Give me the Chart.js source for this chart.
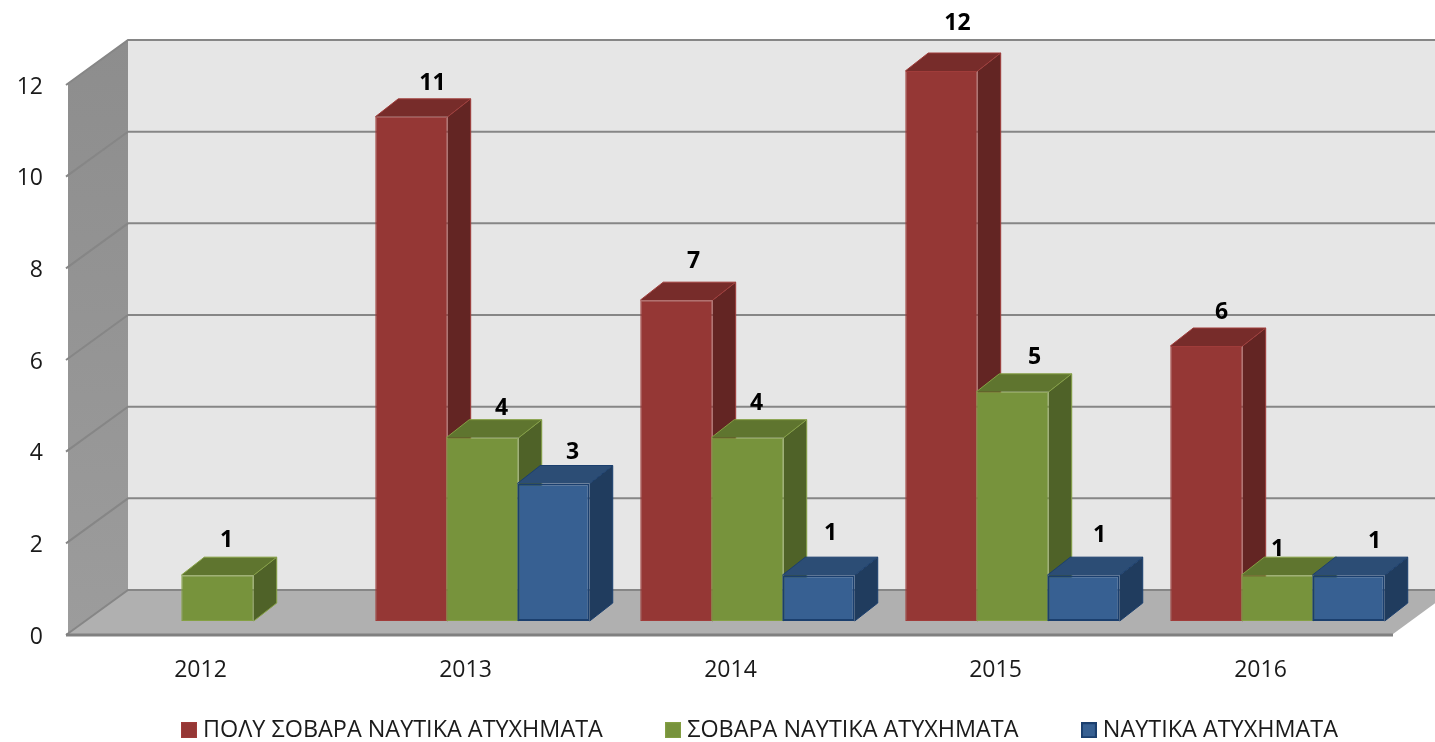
<!DOCTYPE html>
<html>
<head>
<meta charset="utf-8">
<style>html,body{margin:0;padding:0;background:#fff;overflow:hidden}canvas{display:block}</style>
<script src="https://cdn.jsdelivr.net/npm/chart.js@4/dist/chart.umd.js"></script>
</head>
<body>
<canvas id="c" width="1435" height="742"></canvas>
<script>
const categories = ['2012', '2013', '2014', '2015', '2016'];
const verySerious = [null, 11, 7, 12, 6];
const serious = [1, 4, 4, 5, 1];
const accidents = [null, 3, 1, 1, 1];
const seriesNames = ['ΠΟΛΥ ΣΟΒΑΡΑ ΝΑΥΤΙΚΑ ΑΤΥΧΗΜΑΤΑ', 'ΣΟΒΑΡΑ ΝΑΥΤΙΚΑ ΑΤΥΧΗΜΑΤΑ', 'ΝΑΥΤΙΚΑ ΑΤΥΧΗΜΑΤΑ'];

// styling of the 3D box
const WALL = {dx: 60, dy: 44};
const BAR_SHIFT = {x: 17, y: -13};
const DEPTH = {dx: 23, dy: -18};
const shades = [
  {front: '#953735', top: '#772c2a', side: '#632523', border: '#a03c3a', width: 1},
  {front: '#77933c', top: '#5f752f', side: '#4f6228', border: '#85a044', width: 1},
  {front: '#376092', top: '#2c4d75', side: '#203c5e', border: '#1b3f6e', width: 2}
];
const labelOffsets = [
  [null, [21, -35], [17, -40], [16, -49], [15, -35]],
  [[9, -36], [19, -31], [9, -36], [22, -36], [0, -27]],
  [null, [19, -33], [12, -43], [16, -41], [26, -35]]
];

function poly(ctx, pts, fill) {
  ctx.beginPath();
  pts.forEach((p, i) => i ? ctx.lineTo(p[0], p[1]) : ctx.moveTo(p[0], p[1]));
  ctx.closePath();
  ctx.fillStyle = fill;
  ctx.fill();
}

function legendSwatch(s) {
  const c = document.createElement('canvas');
  c.width = 16;
  c.height = 16;
  const x = c.getContext('2d');
  x.fillStyle = s.border;
  x.fillRect(0, 0, 16, 16);
  x.fillStyle = s.front;
  x.fillRect(s.width, s.width, 16 - 2 * s.width, 16 - 2 * s.width);
  return c;
}

const box3d = {
  id: 'box3d',
  beforeLayout(chart) {
    const lg = chart.legend;
    if (lg && !lg._wrapped) {
      const fit = lg.fit;
      lg.fit = function () { fit.call(this); this.height = 30; };
      lg._wrapped = true;
    }
  },
  afterLayout(chart) {
    const lg = chart.legend;
    const pad = lg.options.labels.padding;
    lg.left = 186.7 - pad;
    lg.right = 1435;
    lg.top = 718.5 - pad;
  },
  beforeDatasetsDraw(chart) {
    const {ctx, chartArea: {left, right, top, bottom}, scales: {y}} = chart;
    const {dx, dy} = WALL;
    ctx.save();
    poly(ctx, [[left + dx, top - dy], [right + dx, top - dy], [right + dx, bottom - dy], [left + dx, bottom - dy]], '#e6e6e6');
    const g = ctx.createLinearGradient(0, top - dy, 0, bottom);
    g.addColorStop(0, '#8d8d8d');
    g.addColorStop(1, '#9c9c9c');
    poly(ctx, [[left, top], [left + dx, top - dy], [left + dx, bottom - dy], [left, bottom]], g);
    poly(ctx, [[left, bottom], [left + dx, bottom - dy], [right + dx, bottom - dy], [right, bottom]], '#b0b0b0');
    ctx.strokeStyle = '#868686';
    ctx.lineWidth = 2;
    y.ticks.forEach(t => {
      const py = y.getPixelForValue(t.value);
      ctx.beginPath();
      ctx.moveTo(left - 2, py + 1);
      ctx.lineTo(left + dx, py - dy);
      ctx.lineTo(right + dx, py - dy);
      ctx.stroke();
    });
    ctx.strokeStyle = '#808080';
    ctx.lineWidth = 3;
    ctx.beginPath();
    ctx.moveTo(left - 2, bottom + 1);
    ctx.lineTo(right, bottom + 1);
    ctx.stroke();
    ctx.restore();
  },
  beforeDatasetDraw() { return false; },
  afterDatasetsDraw(chart) {
    const {ctx} = chart;
    ctx.save();
    ctx.translate(BAR_SHIFT.x, BAR_SHIFT.y);
    chart.data.datasets.forEach((ds, i) => {
      const s = shades[i];
      chart.getDatasetMeta(i).data.forEach((el, j) => {
        if (ds.data[j] == null) return;
        const l = el.x - el.width / 2, r = el.x + el.width / 2;
        const {dx, dy} = DEPTH;
        poly(ctx, [[r, el.y], [r + dx, el.y + dy], [r + dx, el.base + dy], [r, el.base]], s.side);
        poly(ctx, [[l, el.y], [l + dx, el.y + dy], [r + dx, el.y + dy], [r, el.y]], s.top);
        ctx.strokeStyle = s.border;
        ctx.lineWidth = 1;
        ctx.beginPath();
        ctx.moveTo(l, el.y);
        ctx.lineTo(l + dx, el.y + dy);
        ctx.lineTo(r + dx, el.y + dy);
        ctx.lineTo(r + dx, el.base + dy);
        ctx.lineTo(r, el.base);
        ctx.moveTo(r, el.y);
        ctx.lineTo(r + dx, el.y + dy);
        ctx.stroke();
        el.draw(ctx);
      });
    });
    ctx.restore();
    ctx.save();
    ctx.font = 'bold 23px "Open Sans"';
    ctx.fillStyle = '#000';
    ctx.textAlign = 'center';
    ctx.textBaseline = 'middle';
    chart.data.datasets.forEach((ds, i) => {
      chart.getDatasetMeta(i).data.forEach((el, j) => {
        if (ds.data[j] == null) return;
        const o = labelOffsets[i][j];
        ctx.fillText(String(ds.data[j]), el.x + BAR_SHIFT.x + o[0], el.y - 11.5 + o[1]);
      });
    });
    ctx.restore();
  }
};

const makeSet = (i, values) => ({
  label: seriesNames[i],
  data: values,
  backgroundColor: shades[i].front,
  borderColor: shades[i].border,
  borderWidth: shades[i].width,
  borderSkipped: false
});

new Chart(document.getElementById('c'), {
  type: 'bar',
  data: {
    labels: categories,
    datasets: [makeSet(0, verySerious), makeSet(1, serious), makeSet(2, accidents)]
  },
  plugins: [box3d],
  options: {
    responsive: false,
    animation: false,
    events: [],
    layout: {padding: {left: 0, top: 84, right: 42, bottom: 0}},
    datasets: {bar: {categoryPercentage: 0.804, barPercentage: 1.02}},
    scales: {
      x: {
        grid: {display: false},
        border: {display: false},
        ticks: {color: '#1a1a1a', font: {family: '"Open Sans"', size: 23}, padding: 15, maxRotation: 0},
        afterFit(s) { s.height = 78; }
      },
      y: {
        min: 0,
        max: 12,
        grid: {display: false},
        border: {display: false},
        ticks: {stepSize: 2, color: '#1a1a1a', font: {family: '"Open Sans"', size: 23}, padding: 17, labelOffset: 3},
        afterFit(s) { s.width = 68; }
      }
    },
    plugins: {
      tooltip: {enabled: false},
      title: {display: false},
      legend: {
        position: 'bottom',
        align: 'start',
        labels: {
          color: '#1a1a1a',
          font: {family: '"Open Sans"', size: 23.4, lineHeight: 1},
          usePointStyle: true,
          pointStyleWidth: 4.6,
          boxHeight: 16,
          padding: 68,
          generateLabels(chart) {
            return Chart.defaults.plugins.legend.labels.generateLabels(chart)
              .map((item, i) => Object.assign(item, {pointStyle: legendSwatch(shades[i])}));
          }
        }
      }
    }
  }
});
</script>
</body>
</html>
